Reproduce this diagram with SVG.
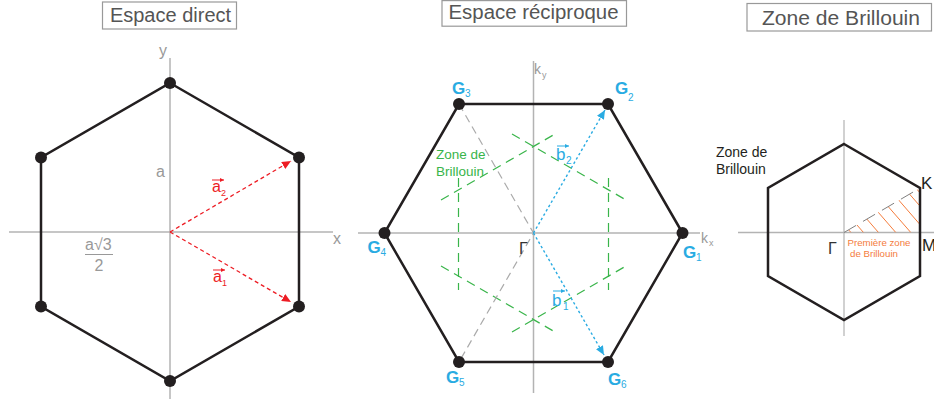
<svg xmlns="http://www.w3.org/2000/svg" width="934" height="399" viewBox="0 0 934 399">
  <style>
    text { font-family: "Liberation Sans", Arial, sans-serif; }
    .title { font-size: 20px; fill: #555; text-anchor: middle; }
    .tbox { fill: #fff; stroke: #999; stroke-width: 1.2; }
    .axis { stroke: #b3b3b3; stroke-width: 1.5; fill: none; }
    .hex { fill: none; stroke: #231f20; stroke-width: 2.5; stroke-linejoin: miter; }
    .dot { fill: #231f20; }
    .grey { fill: #999; }
    .red { fill: #ed1c24; }
    .blue { fill: #29abe2; }
    .glab { fill: #29abe2; font-weight: bold; font-size: 17px; }
    .gsub { fill: #29abe2; font-size: 10px; }
    .green { stroke: #39b54a; stroke-width: 1.2; stroke-dasharray: 9 6; fill: none; }
    .gdash { stroke: #aaa; stroke-width: 1.2; stroke-dasharray: 8 5; fill: none; }
    .rarrow { stroke: #ed1c24; stroke-width: 1.3; stroke-dasharray: 4 3; fill: none; }
    .barrow { stroke: #29abe2; stroke-width: 1.4; stroke-dasharray: 2.5 2.5; fill: none; }
    .hatch { stroke: #f47c3c; stroke-width: 1; fill: none; }
  </style>
  <defs>
    <marker id="mr" markerUnits="userSpaceOnUse" markerWidth="10" markerHeight="8" refX="9" refY="4" orient="auto">
      <path d="M0,0 L9,4 L0,8 Z" fill="#ed1c24"/>
    </marker>
    <marker id="mb" markerUnits="userSpaceOnUse" markerWidth="10" markerHeight="8" refX="9" refY="4" orient="auto">
      <path d="M0,0 L9,4 L0,8 Z" fill="#29abe2"/>
    </marker>
    <marker id="mrs" markerUnits="userSpaceOnUse" markerWidth="5" markerHeight="4" refX="4" refY="2" orient="auto">
      <path d="M0,0 L4,2 L0,4 Z" fill="#ed1c24"/>
    </marker>
    <marker id="mbs" markerUnits="userSpaceOnUse" markerWidth="5" markerHeight="4" refX="4" refY="2" orient="auto">
      <path d="M0,0 L4,2 L0,4 Z" fill="#29abe2"/>
    </marker>
    <clipPath id="tri">
      <polygon points="844,232.5 920,232.5 920,188"/>
    </clipPath>
  </defs>

  <!-- Titles -->
  <g id="title-direct">
    <rect class="tbox" x="102.5" y="2" width="134" height="27"/>
    <text class="title" x="170.5" y="22">Espace direct</text>
  </g>
  <g id="title-reciproque">
    <rect class="tbox" x="442" y="0.6" width="184.5" height="25.6"/>
    <text class="title" x="533.5" y="19" textLength="170" lengthAdjust="spacingAndGlyphs">Espace réciproque</text>
  </g>
  <g id="title-brillouin">
    <rect class="tbox" x="747" y="3.5" width="184.5" height="27.5"/>
    <text class="title" x="841" y="25" textLength="158" lengthAdjust="spacingAndGlyphs">Zone de Brillouin</text>
  </g>

  <!-- ================= Espace direct ================= -->
  <g id="direct-axes">
    <line class="axis" x1="9" y1="232" x2="333" y2="232"/>
    <line class="axis" x1="170" y1="58" x2="170" y2="399"/>
    <text class="grey" x="159" y="56" font-size="16">y</text>
    <text class="grey" x="333" y="244" font-size="16">x</text>
  </g>
  <g id="direct-connectors">
    <polygon class="hex" points="170,83 299,157.5 299,306.5 170,381 41,306.5 41,157.5"/>
    <line class="rarrow" x1="170" y1="232" x2="291" y2="161" marker-end="url(#mr)"/>
    <line class="rarrow" x1="170" y1="232" x2="291" y2="302" marker-end="url(#mr)"/>
  </g>
  <g id="direct-nodes">
    <circle class="dot" cx="170" cy="83" r="6"/>
    <circle class="dot" cx="299" cy="157.5" r="6"/>
    <circle class="dot" cx="299" cy="306.5" r="6"/>
    <circle class="dot" cx="170" cy="381" r="6"/>
    <circle class="dot" cx="41" cy="306.5" r="6"/>
    <circle class="dot" cx="41" cy="157.5" r="6"/>
  </g>
  <g id="direct-labels">
    <text class="grey" x="156" y="177" font-size="16">a</text>
    <text class="grey" x="85" y="250" font-size="16">a√3</text>
    <line x1="85" y1="254.5" x2="113" y2="254.5" stroke="#999" stroke-width="1"/>
    <text class="grey" x="99" y="271" font-size="16" text-anchor="middle">2</text>
    <g id="label-a2">
      <text class="red" x="212" y="192" font-size="16">a</text>
      <text class="red" x="221" y="196" font-size="9">2</text>
      <line x1="212" y1="180" x2="224" y2="180" stroke="#ed1c24" stroke-width="1" marker-end="url(#mrs)"/>
    </g>
    <g id="label-a1">
      <text class="red" x="213" y="282" font-size="16">a</text>
      <text class="red" x="222" y="286" font-size="9">1</text>
      <line x1="213" y1="270" x2="225" y2="270" stroke="#ed1c24" stroke-width="1" marker-end="url(#mrs)"/>
    </g>
  </g>

  <!-- ================= Espace réciproque ================= -->
  <g id="recip-axes">
    <line class="axis" x1="358" y1="233" x2="700" y2="233"/>
    <line class="axis" x1="533.5" y1="61" x2="533.5" y2="393"/>
    <text class="grey" x="534" y="74" font-size="14">k</text>
    <text class="grey" x="542" y="78" font-size="9">y</text>
    <text class="grey" x="701" y="243" font-size="14">k</text>
    <text class="grey" x="709" y="246" font-size="9">x</text>
  </g>
  <g id="recip-brillouin">
    <line class="green" x1="458.5" y1="178" x2="458.5" y2="290"/>
    <line class="green" x1="608.5" y1="178" x2="608.5" y2="290"/>
    <line class="green" x1="441" y1="200" x2="555" y2="134"/>
    <line class="green" x1="512" y1="134" x2="626" y2="200"/>
    <line class="green" x1="441" y1="266" x2="555" y2="332"/>
    <line class="green" x1="512" y1="332" x2="626" y2="266"/>
  </g>
  <g id="recip-connectors">
    <polygon class="hex" points="682.5,233 608,104 459,104 384.5,233 459,362 608,362"/>
    <polyline class="gdash" points="459,104 533.5,233 459,362"/>
    <line class="barrow" x1="533.5" y1="233" x2="605" y2="110" marker-end="url(#mb)"/>
    <line class="barrow" x1="533.5" y1="233" x2="604" y2="355" marker-end="url(#mb)"/>
  </g>
  <g id="recip-nodes">
    <g id="G1"><circle class="dot" cx="682.5" cy="233" r="6"/><text class="glab" x="683" y="258">G</text><text class="gsub" x="696" y="261">1</text></g>
    <g id="G2"><circle class="dot" cx="608" cy="104" r="6"/><text class="glab" x="615" y="94">G</text><text class="gsub" x="628" y="101">2</text></g>
    <g id="G3"><circle class="dot" cx="459" cy="104" r="6"/><text class="glab" x="452" y="94">G</text><text class="gsub" x="465" y="97">3</text></g>
    <g id="G4"><circle class="dot" cx="384.5" cy="233" r="6"/><text class="glab" x="367.5" y="253">G</text><text class="gsub" x="380.5" y="256">4</text></g>
    <g id="G5"><circle class="dot" cx="459" cy="362" r="6"/><text class="glab" x="446" y="383">G</text><text class="gsub" x="459" y="386">5</text></g>
    <g id="G6"><circle class="dot" cx="608" cy="362" r="6"/><text class="glab" x="608" y="385">G</text><text class="gsub" x="621" y="388">6</text></g>
  </g>
  <g id="recip-labels">
    <text x="519" y="254" font-size="16" fill="#333">Γ</text>
    <text x="436" y="159" font-size="13.5" fill="#39b54a">Zone de</text>
    <text x="436" y="176" font-size="13.5" fill="#39b54a">Brillouin</text>
    <g id="label-b2">
      <text class="blue" x="556" y="160" font-size="17">b</text>
      <text class="blue" x="566" y="164" font-size="10">2</text>
      <line x1="557" y1="146" x2="569" y2="146" stroke="#29abe2" stroke-width="1" marker-end="url(#mbs)"/>
    </g>
    <g id="label-b1">
      <text class="blue" x="552" y="306" font-size="17">b</text>
      <text class="blue" x="563" y="310" font-size="10">1</text>
      <line x1="553" y1="291" x2="565" y2="291" stroke="#29abe2" stroke-width="1" marker-end="url(#mbs)"/>
    </g>
  </g>

  <!-- ================= Zone de Brillouin ================= -->
  <g id="bz-axes">
    <line class="axis" x1="738" y1="232.5" x2="934" y2="232.5"/>
    <line x1="844" y1="120" x2="844" y2="336" stroke="#b3b3b3" stroke-width="1.2"/>
  </g>
  <g id="bz-hatch">
    <g clip-path="url(#tri)">
      <line class="hatch" x1="848.5" y1="229.8" x2="851" y2="232.5"/>
      <line class="hatch" x1="856.8" y1="224.8" x2="863.5" y2="232.5"/>
      <line class="hatch" x1="866.7" y1="218.9" x2="878.5" y2="232.5"/>
      <line class="hatch" x1="878" y1="212" x2="895.8" y2="232.5"/>
      <line class="hatch" x1="887.8" y1="206.1" x2="910.8" y2="232.5"/>
      <line class="hatch" x1="898.4" y1="199.7" x2="926.9" y2="232.5"/>
      <line class="hatch" x1="908.9" y1="193.4" x2="933" y2="221"/>
      <line class="hatch" x1="916.5" y1="188.8" x2="933" y2="207.8"/>
    </g>
    <line x1="844" y1="232.5" x2="920" y2="188" stroke="#808080" stroke-width="1" stroke-dasharray="14 8"/>
  </g>
  <g id="bz-hexagon">
    <polygon class="hex" points="844,144 920,188 920,276 844,320 768,276 768,188"/>
  </g>
  <g id="bz-labels">
    <text x="716" y="157" font-size="14" fill="#231f20">Zone de</text>
    <text x="716" y="174" font-size="14" fill="#231f20">Brillouin</text>
    <text x="921" y="189" font-size="17" fill="#231f20">K</text>
    <text x="922" y="251" font-size="17" fill="#231f20">M</text>
    <text x="828" y="254" font-size="16" fill="#333">Γ</text>
    <text x="847.5" y="246" font-size="9.7" fill="#f47c3c">Première zone</text>
    <text x="850" y="257" font-size="9.7" fill="#f47c3c">de Brillouin</text>
  </g>
</svg>
